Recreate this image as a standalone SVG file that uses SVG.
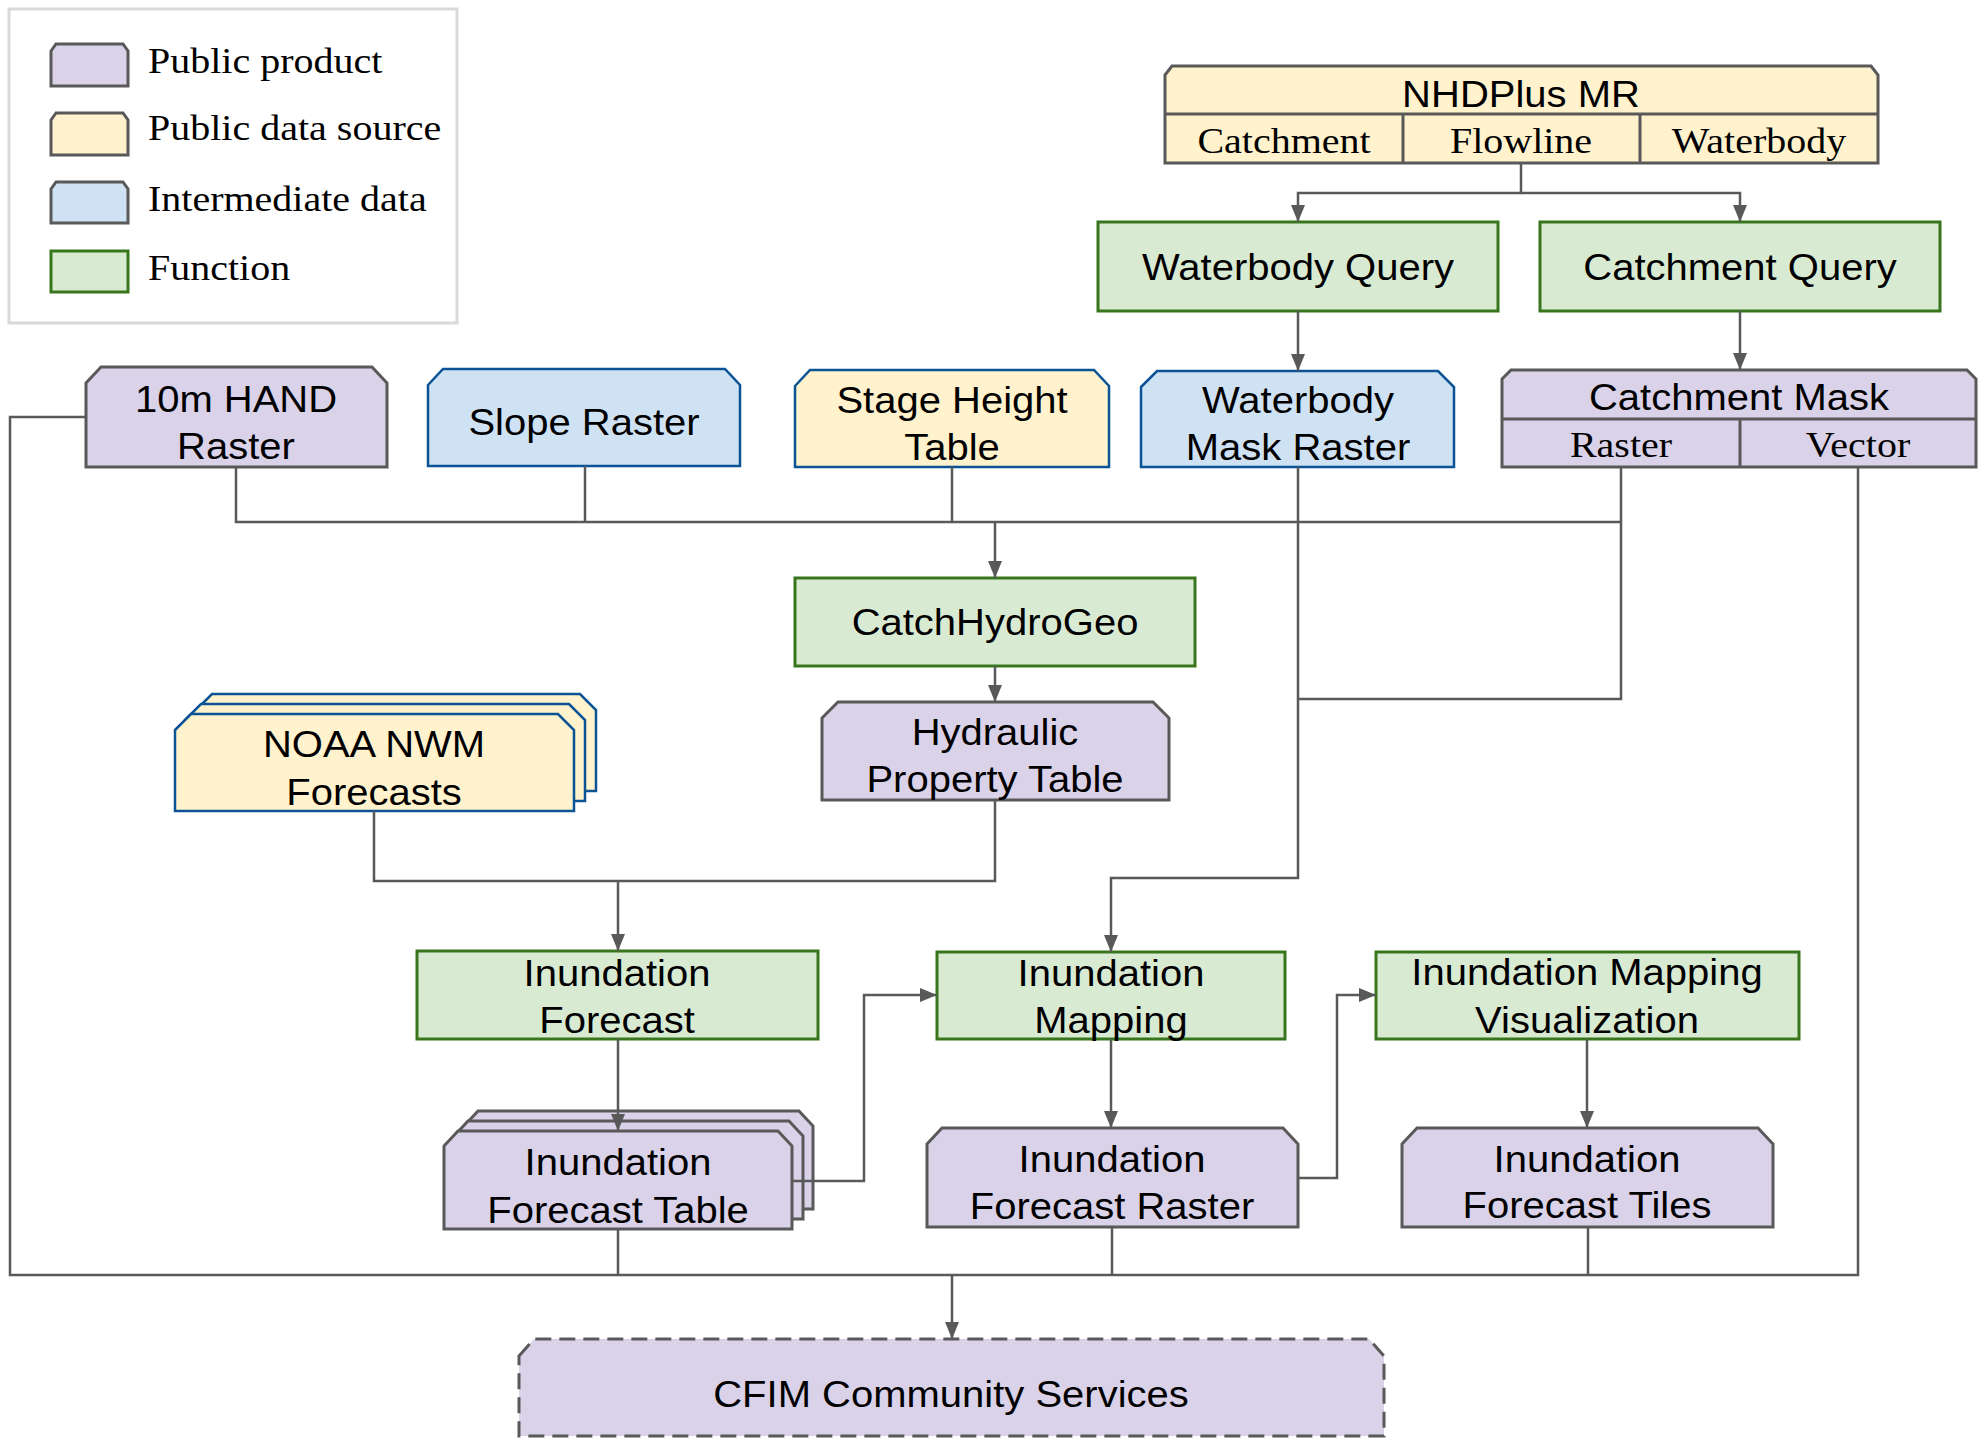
<svg xmlns="http://www.w3.org/2000/svg" width="1986" height="1446" viewBox="0 0 1986 1446">
<style>
.sans{font-family:"Liberation Sans",Arial,sans-serif;font-size:40px;fill:#000;text-anchor:middle}
.serif{font-family:"Liberation Serif","Times New Roman",serif;font-size:40px;fill:#000;text-anchor:middle}
.lg{font-family:"Liberation Serif","Times New Roman",serif;font-size:40px;fill:#000;text-anchor:start}
.prod{fill:#d9d2e9;stroke:#595959;stroke-width:3}
.src{fill:#fff2cc;stroke:#0b5394;stroke-width:2.5}
.srcg{fill:#fff2cc;stroke:#595959;stroke-width:3}
.inter{fill:#cfe2f3;stroke:#0b5394;stroke-width:2.5}
.func{fill:#d9ead3;stroke:#38761d;stroke-width:3}
.sep{fill:none;stroke:#595959;stroke-width:3}
.conn{fill:none;stroke:#595959;stroke-width:2.5}
.arr{fill:none;stroke:#595959;stroke-width:2.5;marker-end:url(#ah)}
</style>
<defs>
<marker id="ah" markerUnits="userSpaceOnUse" markerWidth="18" markerHeight="15" refX="17" refY="7.5" orient="auto">
<path d="M0,0.5 L17,7.5 L0,14.5 z" fill="#595959"/>
</marker>
</defs>
<rect width="1986" height="1446" fill="#fff"/>

<g id="legend">
<rect x="9" y="9" width="448" height="314" fill="#fff" stroke="#d9d9d9" stroke-width="3"/>
<path class="prod" d="M51,51 L56,44 H123 L128,51 V86 H51 Z"/>
<path class="srcg" d="M51,120 L56,113 H123 L128,120 V155 H51 Z"/>
<path class="prod" d="M51,189 L56,182 H123 L128,189 V223 H51 Z" style="fill:#cfe2f3"/>
<rect class="func" x="51" y="251" width="77" height="41"/>
<text class="lg" transform="translate(148,73) scale(1,0.9)">Public product</text>
<text class="lg" transform="translate(148,140) scale(1,0.9)">Public data source</text>
<text class="lg" transform="translate(148,211) scale(1,0.9)">Intermediate data</text>
<text class="lg" transform="translate(148,280) scale(1,0.9)">Function</text>
</g>

<g id="nhdplus">
<path class="srcg" d="M1165,75 L1172,66 H1871 L1878,75 V163 H1165 Z"/>
<path class="sep" d="M1165,114 H1878 M1403,114 V163 M1640,114 V163"/>
<text class="sans" transform="translate(1521,107) scale(1,0.9)">NHDPlus MR</text>
<text class="serif" transform="translate(1284,153) scale(1,0.9)">Catchment</text>
<text class="serif" transform="translate(1521,153) scale(1,0.9)">Flowline</text>
<text class="serif" transform="translate(1759,153) scale(1,0.9)">Waterbody</text>
</g>

<g id="waterbody-query">
<rect class="func" x="1098" y="222" width="400" height="89"/>
<text class="sans" transform="translate(1298,280) scale(1,0.9)">Waterbody Query</text>
</g>

<g id="catchment-query">
<rect class="func" x="1540" y="222" width="400" height="89"/>
<text class="sans" transform="translate(1740,280) scale(1,0.9)">Catchment Query</text>
</g>

<g id="hand-raster">
<path class="prod" d="M86,383 L101,367 H372 L387,383 V467 H86 Z"/>
<text class="sans" transform="translate(236,412) scale(1,0.9)">10m HAND</text>
<text class="sans" transform="translate(236,459) scale(1,0.9)">Raster</text>
</g>

<g id="slope-raster">
<path class="inter" d="M428,385 L443,369 H725 L740,385 V466 H428 Z"/>
<text class="sans" transform="translate(584,435) scale(1,0.9)">Slope Raster</text>
</g>

<g id="stage-height-table">
<path class="src" d="M795,386 L810,370 H1094 L1109,386 V467 H795 Z"/>
<text class="sans" transform="translate(952,413) scale(1,0.9)">Stage Height</text>
<text class="sans" transform="translate(952,460) scale(1,0.9)">Table</text>
</g>

<g id="waterbody-mask-raster">
<path class="inter" d="M1141,387 L1157,371 H1438 L1454,387 V467 H1141 Z"/>
<text class="sans" transform="translate(1298,413) scale(1,0.9)">Waterbody</text>
<text class="sans" transform="translate(1298,460) scale(1,0.9)">Mask Raster</text>
</g>

<g id="catchment-mask">
<path class="prod" d="M1502,379 L1511,370 H1967 L1976,379 V467 H1502 Z"/>
<path class="sep" d="M1502,419 H1976 M1740,419 V467"/>
<text class="sans" transform="translate(1739,410) scale(1,0.9)">Catchment Mask</text>
<text class="serif" transform="translate(1621,457) scale(1,0.9)">Raster</text>
<text class="serif" transform="translate(1858,457) scale(1,0.9)">Vector</text>
</g>

<g id="catchhydrogeo">
<rect class="func" x="795" y="578" width="400" height="88"/>
<text class="sans" transform="translate(995,635) scale(1,0.9)">CatchHydroGeo</text>
</g>

<g id="hydraulic-property-table">
<path class="prod" d="M822,718 L838,702 H1153 L1169,718 V800 H822 Z"/>
<text class="sans" transform="translate(995,745) scale(1,0.9)">Hydraulic</text>
<text class="sans" transform="translate(995,792) scale(1,0.9)">Property Table</text>
</g>

<g id="noaa-nwm-forecasts">
<path class="src" d="M196,710 L212,694 H580 L596,710 V791 H196 Z"/>
<path class="src" d="M185,720 L201,704 H569 L585,720 V801 H185 Z"/>
<path class="src" d="M175,730 L191,714 H558 L574,730 V811 H175 Z"/>
<text class="sans" transform="translate(374,757) scale(1,0.9)">NOAA NWM</text>
<text class="sans" transform="translate(374,805) scale(1,0.9)">Forecasts</text>
</g>

<g id="inundation-forecast">
<rect class="func" x="417" y="951" width="401" height="88"/>
<text class="sans" transform="translate(617,986) scale(1,0.9)">Inundation</text>
<text class="sans" transform="translate(617,1033) scale(1,0.9)">Forecast</text>
</g>

<g id="inundation-mapping">
<rect class="func" x="937" y="952" width="348" height="87"/>
<text class="sans" transform="translate(1111,986) scale(1,0.9)">Inundation</text>
<text class="sans" transform="translate(1111,1033) scale(1,0.9)">Mapping</text>
</g>

<g id="inundation-mapping-visualization">
<rect class="func" x="1376" y="952" width="423" height="87"/>
<text class="sans" transform="translate(1587,985) scale(1,0.9)">Inundation Mapping</text>
<text class="sans" transform="translate(1587,1033) scale(1,0.9)">Visualization</text>
</g>

<g id="inundation-forecast-table">
<path class="prod" d="M464,1126 L478,1111 H799 L813,1126 V1209 H464 Z"/>
<path class="prod" d="M454,1136 L468,1121 H789 L803,1136 V1219 H454 Z"/>
<path class="prod" d="M444,1146 L458,1131 H778 L792,1146 V1229 H444 Z"/>
<text class="sans" transform="translate(618,1175) scale(1,0.9)">Inundation</text>
<text class="sans" transform="translate(618,1223) scale(1,0.9)">Forecast Table</text>
</g>

<g id="inundation-forecast-raster">
<path class="prod" d="M927,1144 L942,1128 H1283 L1298,1144 V1227 H927 Z"/>
<text class="sans" transform="translate(1112,1172) scale(1,0.9)">Inundation</text>
<text class="sans" transform="translate(1112,1219) scale(1,0.9)">Forecast Raster</text>
</g>

<g id="inundation-forecast-tiles">
<path class="prod" d="M1402,1144 L1417,1128 H1758 L1773,1144 V1227 H1402 Z"/>
<text class="sans" transform="translate(1587,1172) scale(1,0.9)">Inundation</text>
<text class="sans" transform="translate(1587,1218) scale(1,0.9)">Forecast Tiles</text>
</g>

<g id="cfim-community-services">
<path class="prod" d="M519,1356 L534,1339 H1369 L1384,1356 V1436 H519 Z" style="stroke-dasharray:16 8"/>
<text class="sans" transform="translate(951,1407) scale(1,0.9)">CFIM Community Services</text>
</g>

<g id="connectors">
<path class="arr" d="M1521,163 V193 H1298 V222"/>
<path class="arr" d="M1521,193 H1740 V222"/>
<path class="arr" d="M1298,311 V371"/>
<path class="arr" d="M1740,311 V370"/>
<path class="conn" d="M236,467 V522 H1621"/>
<path class="conn" d="M585,466 V522"/>
<path class="conn" d="M952,467 V522"/>
<path class="arr" d="M995,522 V578"/>
<path class="conn" d="M1621,467 V699 H1298"/>
<path class="arr" d="M1298,467 V878 H1111 V952"/>
<path class="arr" d="M995,666 V702"/>
<path class="conn" d="M374,811 V881 H995 V800"/>
<path class="arr" d="M618,881 V951"/>
<path class="arr" d="M618,1039 V1131"/>
<path class="arr" d="M792,1181 H864 V995 H937"/>
<path class="arr" d="M1111,1039 V1128"/>
<path class="arr" d="M1298,1178 H1337 V995 H1376"/>
<path class="arr" d="M1587,1039 V1128"/>
<path class="conn" d="M86,417 H10 V1275 H1858 V467"/>
<path class="conn" d="M618,1229 V1275"/>
<path class="conn" d="M1112,1227 V1275"/>
<path class="conn" d="M1588,1227 V1275"/>
<path class="arr" d="M952,1275 V1339"/>
</g>
</svg>
